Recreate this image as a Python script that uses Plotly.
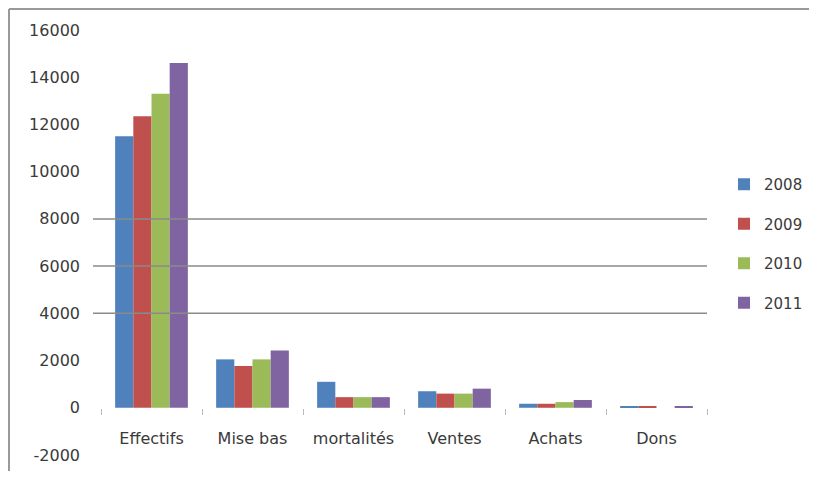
import plotly.graph_objects as go

categories = ["Effectifs", "Mise bas", "mortalités", "Ventes", "Achats", "Dons"]
years = ["2008", "2009", "2010", "2011"]
v2008 = [11500, 2050, 1100, 700, 170, 40]
v2009 = [12350, 1770, 450, 600, 170, 40]
v2010 = [13300, 2050, 450, 600, 240, 0]
v2011 = [14600, 2430, 450, 810, 330, 40]
series = [v2008, v2009, v2010, v2011]
colors = ["#4F81BD", "#C0504D", "#9BBB59", "#8064A2"]
y_ticks = [-2000, 0, 2000, 4000, 6000, 8000, 10000, 12000, 14000, 16000]
y_ticktext = ["-2000", "0", "2000", "4000", "6000", "8000", "10000", "12000", "14000", "16000"]
grid_levels = [4000, 6000, 8000]

# page has an 8px body margin; figure sized to fit the 817x479 window
OFF = 8
W, H = 817 - 2 * OFF, 479 - 2 * OFF
PL, PR, PT, PB = 101, 707, 30, 455   # plot area in page pixels
L, T = PL - OFF, PT - OFF
R = W - (PR - OFF)
B = H - (PB - OFF)
pw, ph = W - L - R, H - T - B

def px_x(p):
    return (p - PL) / pw

def px_y(p):
    return (PB - p) / ph

fig = go.Figure()
for yr, vals, c in zip(years, series, colors):
    fig.add_trace(go.Bar(name=yr, x=categories, y=vals, marker=dict(color=c, line=dict(width=0)),
                         legendgroup=yr))

shapes = []
for g in grid_levels:
    shapes.append(dict(type="line", xref="paper", yref="y", x0=px_x(93), x1=1, y0=g, y1=g,
                       line=dict(color="#8a8a8a", width=1.5)))
# chart frame (left and top edges visible)
shapes.append(dict(type="line", xref="paper", yref="paper", x0=px_x(9), x1=px_x(9),
                   y0=px_y(472), y1=px_y(9), line=dict(color="#999999", width=2)))
shapes.append(dict(type="line", xref="paper", yref="paper", x0=px_x(9), x1=px_x(830),
                   y0=px_y(9), y1=px_y(9), line=dict(color="#999999", width=2)))

font = dict(family="DejaVu Sans", size=16, color="#3a3a3a")
fig.update_layout(
    width=W, height=H,
    margin=dict(l=L, r=R, t=T, b=B, pad=0, autoexpand=False),
    paper_bgcolor="white", plot_bgcolor="white",
    barmode="group", bargap=0.28, bargroupgap=0,
    font=font,
    shapes=shapes,
    showlegend=True,
    legend=dict(x=px_x(724), xanchor="left", y=px_y(168), yanchor="top",
                font=dict(family="DejaVu Sans", size=15, color="#3a3a3a"),
                tracegroupgap=17, bgcolor="rgba(0,0,0,0)"),
    xaxis=dict(type="category", anchor="free", position=2000 / 18000,
               showline=False, showgrid=False, zeroline=False, automargin=False,
               ticks="outside", tickson="boundaries", ticklen=6, tickcolor="#b8b8b8",
               ticklabelstandoff=19, tickfont=font),
    yaxis=dict(range=[-2000, 16000], tickvals=y_ticks, ticktext=y_ticktext,
               showgrid=False, zeroline=False, automargin=False,
               showline=False, ticks="", ticklabelstandoff=20, tickfont=font),
)

fig.write_html("out.html")
